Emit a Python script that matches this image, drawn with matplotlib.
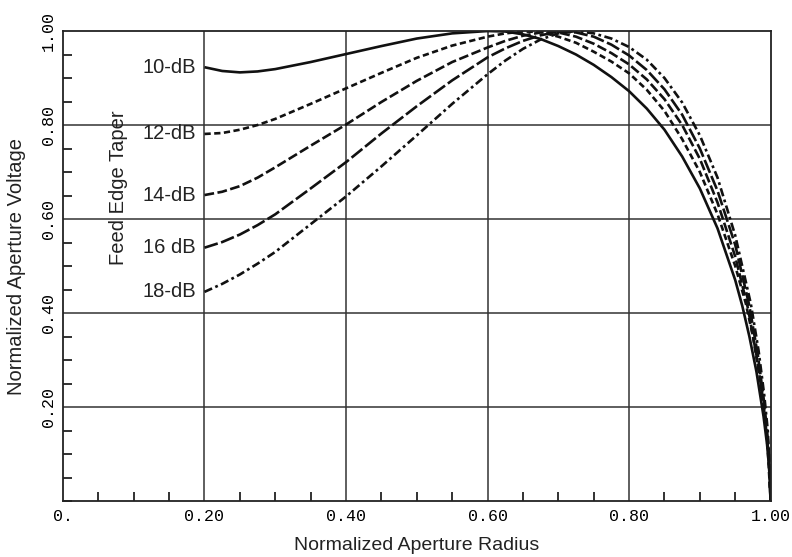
import numpy as np
import matplotlib
matplotlib.use("Agg")
import matplotlib.pyplot as plt
from matplotlib.ticker import MultipleLocator

plt.rcParams['font.family'] = ['Liberation Sans', 'DejaVu Sans']
plt.rcParams['lines.scale_dashes'] = False

# values (normalized radius, normalized voltage)
r_10 = [0.2, 0.225, 0.25, 0.275, 0.3, 0.35, 0.4, 0.45, 0.5, 0.55, 0.6, 0.625, 0.65, 0.675,
        0.7, 0.725, 0.75, 0.775, 0.8, 0.825, 0.85, 0.875, 0.9, 0.925, 0.95, 0.96, 0.97,
        0.98, 0.99, 0.995, 0.998, 1.0]
v_10 = [0.923, 0.915, 0.912, 0.914, 0.919, 0.934, 0.951, 0.968, 0.984, 0.995, 1.0, 0.999, 0.993, 0.983,
        0.968, 0.950, 0.928, 0.902, 0.872, 0.835, 0.79, 0.733, 0.665, 0.58, 0.47, 0.415, 0.35,
        0.275, 0.18, 0.12, 0.07, 0.0]

r_12 = [0.2, 0.225, 0.25, 0.275, 0.3, 0.35, 0.4, 0.45, 0.5, 0.55, 0.6, 0.625, 0.65, 0.675,
        0.7, 0.725, 0.75, 0.775, 0.8, 0.825, 0.85, 0.875, 0.9, 0.925, 0.95, 0.965, 0.975,
        0.985, 0.992, 0.996, 1.0]
v_12 = [0.781, 0.783, 0.790, 0.800, 0.813, 0.845, 0.878, 0.911, 0.943, 0.969, 0.988, 0.995, 0.999, 0.998,
        0.988, 0.975, 0.956, 0.935, 0.910, 0.875, 0.83, 0.77, 0.70, 0.61, 0.50, 0.42, 0.35,
        0.26, 0.18, 0.11, 0.0]

r_14 = [0.2, 0.225, 0.25, 0.275, 0.3, 0.35, 0.4, 0.45, 0.5, 0.55, 0.6, 0.625, 0.65, 0.675,
        0.7, 0.725, 0.75, 0.775, 0.8, 0.825, 0.85, 0.875, 0.9, 0.925, 0.95, 0.968, 0.98,
        0.988, 0.994, 0.997, 1.0]
v_14 = [0.651, 0.658, 0.670, 0.688, 0.710, 0.756, 0.801, 0.849, 0.894, 0.934, 0.965, 0.979, 0.990, 0.997,
        0.997, 0.988, 0.973, 0.953, 0.929, 0.897, 0.855, 0.800, 0.728, 0.635, 0.52, 0.41, 0.31,
        0.23, 0.15, 0.10, 0.0]

r_16 = [0.2, 0.225, 0.25, 0.275, 0.3, 0.35, 0.4, 0.45, 0.5, 0.55, 0.6, 0.625, 0.65, 0.675,
        0.7, 0.725, 0.75, 0.775, 0.8, 0.825, 0.85, 0.875, 0.9, 0.925, 0.95, 0.97, 0.982,
        0.99, 0.995, 0.998, 1.0]
v_16 = [0.539, 0.551, 0.567, 0.587, 0.610, 0.665, 0.721, 0.782, 0.840, 0.895, 0.944, 0.963, 0.979, 0.991,
        0.998, 0.997, 0.988, 0.971, 0.948, 0.917, 0.876, 0.822, 0.750, 0.66, 0.545, 0.415, 0.31,
        0.22, 0.15, 0.09, 0.0]

r_18 = [0.2, 0.225, 0.25, 0.275, 0.3, 0.35, 0.4, 0.45, 0.5, 0.55, 0.6, 0.625, 0.65, 0.675,
        0.7, 0.725, 0.75, 0.775, 0.8, 0.825, 0.85, 0.875, 0.9, 0.925, 0.95, 0.972, 0.983,
        0.991, 0.996, 0.998, 1.0]
v_18 = [0.445, 0.462, 0.482, 0.505, 0.530, 0.589, 0.648, 0.712, 0.778, 0.845, 0.908, 0.937, 0.962, 0.982,
        0.995, 1.0, 0.995, 0.984, 0.966, 0.939, 0.900, 0.848, 0.778, 0.688, 0.565, 0.42, 0.32,
        0.225, 0.15, 0.09, 0.0]

labels = ["10-dB", "12-dB", "14-dB", "16 dB", "18-dB"]
curves = [(r_10, v_10), (r_12, v_12), (r_14, v_14), (r_16, v_16), (r_18, v_18)]
styles = ['-', (0, (4.5, 2.5)), (0, (7, 2.5)), (0, (10, 2.5)), (0, (6, 2.5, 2, 2.5))]

xticks = [0, 0.2, 0.4, 0.6, 0.8, 1.0]
xlabels = ["0.", "0.20", "0.40", "0.60", "0.80", "1.00"]
yticks = [0.2, 0.4, 0.6, 0.8, 1.0]
ylabels = ["0.20", "0.40", "0.60", "0.80", "1.00"]

fig = plt.figure(figsize=(7.92, 5.57), dpi=100)
ax = fig.add_axes([0.0795, 0.1005, 0.8935, 0.8438])

for (r, v), ls, lab in zip(curves, styles, labels):
    ax.plot(r, v, color='#111111', lw=1.9, linestyle=ls, solid_capstyle='butt')
    ax.text(0.188, v[0], lab, ha='right', va='center', fontsize=14.5, color='#222222')

for g in [0.2, 0.4, 0.6, 0.8]:
    ax.axhline(g, color='#333333', lw=1.1, zorder=0)
    ax.axvline(g, color='#333333', lw=1.1, zorder=0)

ax.text(0.078, 0.666, "Feed Edge Taper", rotation=90, ha='center', va='center',
        fontsize=14.5, color='#222222')

ax.set_xlim(0, 1)
ax.set_ylim(0, 1)
ax.set_xticks(xticks)
ax.set_xticklabels(xlabels, family='Liberation Mono', fontsize=12)
ax.set_yticks(yticks)
ax.set_yticklabels(ylabels, family='Liberation Mono', fontsize=12, rotation=90, va='center')
ax.xaxis.set_minor_locator(MultipleLocator(0.05))
ax.yaxis.set_minor_locator(MultipleLocator(0.05))
ax.tick_params(which='both', direction='in', top=False, right=False, color='#222222', width=1.3)
ax.tick_params(which='minor', length=6.5)
ax.tick_params(axis='x', which='major', length=0, pad=6)
ax.tick_params(axis='y', which='major', length=0, pad=5)

for s in ax.spines.values():
    s.set_linewidth(1.3)
    s.set_color('#222222')

ax.set_xlabel("Normalized Aperture Radius", fontsize=14, color='#222222', labelpad=9)
ax.set_ylabel("Normalized Aperture Voltage", fontsize=14.5, color='#222222', labelpad=11)

fig.savefig("out.png", dpi=100)
